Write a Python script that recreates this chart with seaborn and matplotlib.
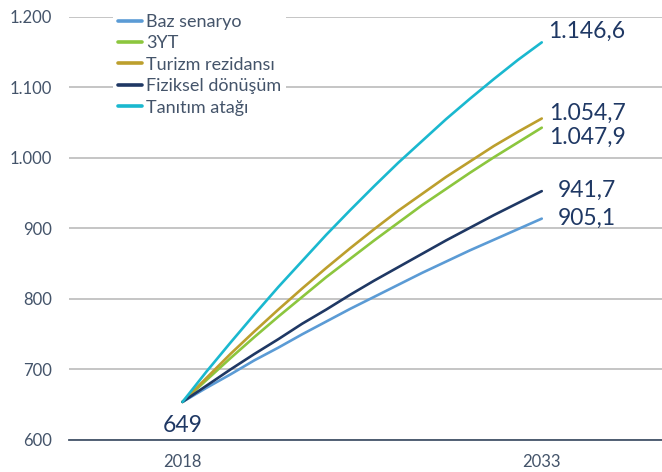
import matplotlib
matplotlib.use("Agg")
import matplotlib.pyplot as plt
import seaborn as sns
import pandas as pd

# values (line positions), one per year
years = list(range(2018, 2034))
baz = [654, 674, 693, 713, 731, 750, 768, 786, 803, 820, 837, 853, 869, 884, 899, 914]
yt3 = [654, 685, 716, 746, 775, 803, 831, 857, 883, 908, 933, 956, 979, 1001, 1022, 1043]
turizm = [654, 688, 722, 754, 785, 815, 844, 872, 899, 925, 949, 973, 995, 1017, 1037, 1056]
fiziksel = [654, 677, 700, 722, 743, 765, 785, 806, 826, 845, 864, 883, 901, 919, 936, 953]
tanitim = [654, 697, 738, 778, 817, 854, 891, 926, 960, 993, 1024, 1055, 1084, 1112, 1139, 1164]

series_names = ["Baz senaryo", "3YT", "Turizm rezidansı", "Fiziksel dönüşüm", "Tanıtım atağı"]
colors = ["#5b9bd5", "#8cc63e", "#bc9f2d", "#1f3864", "#1ab8cf"]

# end labels as printed on the chart
end_labels = ["905,1", "1.047,9", "1.054,7", "941,7", "1.146,6"]
end_label_y = [914, 1030, 1063, 954, 1180]
start_label = "649"

yticks = [600, 700, 800, 900, 1000, 1100, 1200]
ytick_labels = ["600", "700", "800", "900", "1.000", "1.100", "1.200"]

df = pd.DataFrame({
    "year": years * 5,
    "value": baz + yt3 + turizm + fiziksel + tanitim,
    "series": [n for n in series_names for _ in years],
})

sns.set_style("white")
plt.rcParams["font.family"] = ["Lato", "DejaVu Sans"]

fig = plt.figure(figsize=(6.62, 4.72), dpi=100)
ax = fig.add_axes([0.1042, 0.0678, 0.8958, 0.8962])

ax.set_ylim(600, 1200)
ax.set_xlim(2013.26, 2038.02)
ax.set_yticks(yticks)
ax.set_yticklabels(ytick_labels)
ax.set_xticks([2018, 2033])
ax.set_xticklabels(["2018", "2033"])
ax.yaxis.grid(True, color="#c0c0c0", linewidth=1.3)
ax.set_axisbelow(True)

sns.lineplot(data=df, x="year", y="value", hue="series", hue_order=series_names,
             palette=colors, linewidth=1.9, ax=ax)

for s in ["top", "right", "left"]:
    ax.spines[s].set_visible(False)
ax.spines["bottom"].set_color("#44546a")
ax.spines["bottom"].set_linewidth(1.3)
ax.spines["bottom"].set_zorder(3)

ax.tick_params(axis="both", length=0, labelsize=12, labelcolor="#44546a")
ax.tick_params(axis="y", pad=12)
ax.tick_params(axis="x", pad=10)
ax.set_xlabel("")
ax.set_ylabel("")

for lab, y in zip(end_labels, end_label_y):
    ax.text(2034.89, y, lab, ha="center", va="center", fontsize=16.5, color="#1f3864")
ax.text(2018, 621, start_label, ha="center", va="center", fontsize=16.5, color="#1f3864")

handles, labels = ax.get_legend_handles_labels()
for h in handles:
    h.set_linewidth(2.6)
leg = ax.legend(handles, labels, loc="upper left", bbox_to_anchor=(0.17, 0.982),
                bbox_transform=fig.transFigure, frameon=True, facecolor="white",
                edgecolor="none", framealpha=1, fontsize=13, handlelength=1.35,
                handletextpad=0.2, labelspacing=0.3, borderpad=0.3, borderaxespad=0)
for t in leg.get_texts():
    t.set_color("#44546a")

fig.savefig("out.png", dpi=100)
